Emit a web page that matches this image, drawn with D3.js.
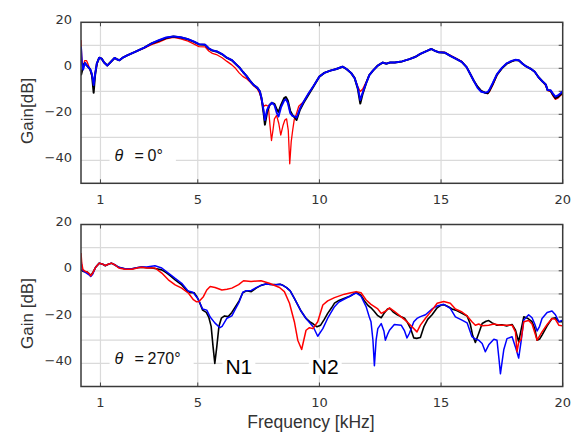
<!DOCTYPE html>
<html><head><meta charset="utf-8">
<script src="https://cdn.jsdelivr.net/npm/d3@7"></script>
<style>body{margin:0;background:#fff}svg{display:block}</style>
</head><body>
<svg id="chart" width="579" height="432"></svg>
<script>
// ---------- data (f [kHz], gain [dB]) ----------
const xTicks = [1, 5, 10, 15, 20];
const yTickLabels = [20, 0, -20, -40];
const yGrid = [10, 0, -10, -20, -30, -40];

const top0Black = [[0.2,-3],[0.25,-1],[0.3,1.5],[0.36,2.3],[0.42,1.5],[0.5,0.5],[0.58,-0.5],[0.65,-3],[0.72,-10.6],[0.78,-3],[0.85,2],[0.95,4.6],[1.05,4.2],[1.15,2.5],[1.28,1.2],[1.4,2.5],[1.58,4.5],[1.7,3.8],[1.78,3.5],[1.9,4.5],[2.1,5.6],[2.4,7],[2.8,9],[3.1,10.8],[3.4,12],[3.7,13.2],[4.0,13.8],[4.3,13.4],[4.6,12.6],[4.85,11.5],[5.05,10.4],[5.3,10.2],[5.45,8.6],[5.6,7.7],[5.8,7.2],[6.0,6.1],[6.2,4.5],[6.4,3.5],[6.55,2],[6.7,0.5],[6.85,-1.5],[7.0,-3.3],[7.15,-5.5],[7.3,-7.3],[7.45,-8.5],[7.55,-10],[7.62,-13],[7.7,-19],[7.76,-24.5],[7.85,-19],[7.95,-16],[8.05,-15],[8.15,-15.5],[8.25,-18],[8.32,-19],[8.42,-16],[8.55,-13],[8.62,-12.5],[8.7,-14],[8.8,-18.5],[8.9,-20.5],[9.0,-21.5],[9.06,-22.5],[9.2,-18],[9.35,-15],[9.55,-11.5],[9.75,-8],[10.0,-3.6],[10.2,-2],[10.45,-1],[10.7,-0.3],[10.95,0.7],[11.1,-0.2],[11.3,-2],[11.45,-4.3],[11.58,-9],[11.68,-15.3],[11.78,-11],[11.92,-6.5],[12.05,-3],[12.2,-1],[12.4,1.2],[12.6,2.5],[12.75,2],[12.9,2.5],[13.1,2.5],[13.4,3],[13.7,4],[13.95,5],[14.15,6.3],[14.4,7.5],[14.6,8.4],[14.75,7.6],[14.9,7],[15.15,6.8],[15.4,5.3],[15.6,4.2],[15.85,2.8],[16.05,0.5],[16.2,-2.5],[16.35,-5.5],[16.5,-8],[16.65,-9.8],[16.8,-10.6],[16.92,-10.8],[17.0,-9.5],[17.12,-7],[17.3,-2.7],[17.5,0],[17.7,2],[17.9,3],[18.05,3.6],[18.2,3.4],[18.35,2],[18.5,0.8],[18.7,-0.3],[18.85,-1.5],[19.0,-3.8],[19.15,-5.5],[19.3,-7],[19.38,-9.5],[19.5,-9.8],[19.6,-11.5],[19.7,-13],[19.8,-12.5],[19.9,-11.5],[20.0,-10.5]];

const top0Blue = [[0.2,9.4],[0.24,2],[0.29,-0.5],[0.36,2.3],[0.42,1.5],[0.5,0.5],[0.58,-0.5],[0.65,-2.5],[0.72,-7.3],[0.78,-2.5],[0.85,2],[0.95,4.6],[1.05,4.2],[1.15,2.5],[1.28,1.2],[1.4,2.5],[1.58,4.5],[1.7,3.8],[1.78,3.5],[1.9,4.5],[2.1,5.6],[2.4,7],[2.8,9],[3.1,10.8],[3.4,12.2],[3.7,13.4],[4.0,13.9],[4.3,13.5],[4.6,12.7],[4.85,11.6],[5.05,10.5],[5.3,10.3],[5.45,8.7],[5.6,7.8],[5.8,7.3],[6.0,6.2],[6.2,4.6],[6.4,3.6],[6.55,2],[6.7,0.5],[6.85,-1.5],[7.0,-3.3],[7.15,-5.5],[7.3,-7.3],[7.45,-8.5],[7.55,-10],[7.62,-13],[7.7,-18],[7.76,-22.5],[7.85,-18],[7.95,-16],[8.05,-15],[8.15,-16],[8.25,-19.5],[8.32,-21],[8.42,-17],[8.55,-14],[8.62,-13.5],[8.7,-15],[8.8,-19.5],[8.9,-20.8],[9.0,-21],[9.06,-21.5],[9.2,-17.5],[9.35,-14.5],[9.55,-11],[9.75,-7.8],[10.0,-3.6],[10.2,-2],[10.45,-1],[10.7,-0.3],[10.95,0.7],[11.1,-0.2],[11.3,-2],[11.45,-4.3],[11.58,-8.5],[11.68,-13.8],[11.78,-10.5],[11.92,-6.5],[12.05,-3],[12.2,-1],[12.4,1.2],[12.6,2.5],[12.75,2],[12.9,2.5],[13.1,2.5],[13.4,3],[13.7,4],[13.95,5],[14.15,6.3],[14.4,7.5],[14.6,8.4],[14.75,7.6],[14.9,7],[15.15,6.8],[15.4,5.3],[15.6,4.2],[15.85,2.8],[16.05,0.5],[16.2,-2.5],[16.35,-5.5],[16.5,-8.5],[16.65,-10.2],[16.8,-10.6],[16.92,-10.3],[17.0,-9],[17.12,-6.5],[17.3,-2.5],[17.5,0.2],[17.7,2.2],[17.9,3.2],[18.05,3.7],[18.2,3.5],[18.35,2],[18.5,0.8],[18.7,-0.3],[18.85,-1.5],[19.0,-3.8],[19.15,-5.5],[19.3,-7],[19.38,-9.5],[19.5,-9.5],[19.6,-11],[19.7,-12.3],[19.8,-11.8],[19.9,-11],[20.0,-10]];

const top0Red = [[0.2,12.3],[0.23,5],[0.28,0],[0.35,3.3],[0.43,3.3],[0.5,1.5],[0.6,-1.5],[0.66,-4],[0.72,-6.5],[0.8,-1],[0.9,3.5],[0.95,4.6],[1.05,4.2],[1.15,2.5],[1.28,1.2],[1.4,2.5],[1.58,4.5],[1.7,3.8],[1.78,3.5],[1.9,4.5],[2.1,5.6],[2.4,7],[2.8,8.8],[3.1,10.3],[3.4,11.4],[3.7,12.8],[4.0,13.4],[4.3,12.8],[4.6,11.8],[4.85,10.5],[5.05,9.4],[5.3,9.3],[5.45,7.5],[5.6,6.5],[5.8,5.8],[6.0,4.6],[6.2,3],[6.4,1.5],[6.55,0],[6.7,-2],[6.85,-3.5],[7.0,-4.5],[7.15,-6],[7.3,-7.6],[7.45,-9],[7.55,-11],[7.65,-15],[7.72,-16.5],[7.8,-16],[7.9,-16.5],[7.97,-25],[8.03,-31.4],[8.09,-27],[8.15,-22],[8.24,-20.5],[8.33,-24],[8.41,-29],[8.5,-25],[8.58,-22.5],[8.65,-22],[8.72,-27],[8.78,-41.5],[8.84,-32],[8.9,-27],[8.97,-22],[9.05,-20],[9.15,-16.5],[9.25,-15.5],[9.35,-14.5],[9.55,-11],[9.75,-7.8],[10.0,-3.6],[10.2,-2],[10.45,-1],[10.7,-0.3],[10.95,0.7],[11.1,-0.2],[11.3,-2],[11.45,-4.3],[11.58,-8],[11.68,-10.1],[11.78,-9],[11.92,-6],[12.05,-3],[12.2,-1],[12.4,1.2],[12.6,2.5],[12.75,2],[12.9,2.5],[13.1,2.5],[13.4,3],[13.7,4],[13.95,5],[14.15,6.3],[14.4,7.5],[14.6,8.4],[14.75,7.6],[14.9,7],[15.15,7],[15.4,5.5],[15.6,4.4],[15.85,3],[16.05,0.5],[16.2,-2.5],[16.35,-5.5],[16.5,-8],[16.65,-9.8],[16.8,-10.6],[16.92,-11],[17.0,-10],[17.12,-7.5],[17.3,-3],[17.5,0],[17.7,2],[17.9,3],[18.05,3.6],[18.2,3.4],[18.35,2],[18.5,0.8],[18.7,-0.3],[18.85,-1.5],[19.0,-3.8],[19.15,-5.5],[19.3,-7.5],[19.38,-9.7],[19.5,-10],[19.6,-12],[19.7,-13.5],[19.8,-13],[19.9,-12],[20.0,-11]];

const bot270Black = [[0.2,0.4],[0.3,-0.3],[0.45,-0.5],[0.55,-1.5],[0.62,-1.8],[0.7,-0.5],[0.8,1.5],[0.95,3.3],[1.1,2.8],[1.2,2.2],[1.32,2.8],[1.45,3.3],[1.6,2.5],[1.75,1.5],[2.0,0.9],[2.3,0.9],[2.55,1.4],[2.7,1.6],[2.9,1.3],[3.1,1.2],[3.3,0.9],[3.52,0.4],[3.7,-0.8],[3.85,-2],[4.07,-3.9],[4.34,-6.1],[4.55,-8.5],[4.7,-9.5],[4.85,-9.5],[4.95,-11],[5.05,-13],[5.2,-17],[5.35,-18],[5.45,-20],[5.55,-24],[5.63,-33],[5.7,-40],[5.78,-33],[5.87,-24],[5.97,-20.5],[6.1,-19.5],[6.25,-19.8],[6.4,-18],[6.55,-15.5],[6.7,-13],[6.85,-9.5],[7.0,-8.6],[7.2,-9],[7.4,-7.5],[7.6,-6.3],[7.8,-5.7],[8.0,-5.9],[8.2,-6],[8.38,-5.8],[8.5,-6.3],[8.65,-7.3],[8.8,-8.7],[8.97,-11.9],[9.1,-14.5],[9.25,-17.5],[9.45,-20.6],[9.6,-22],[9.75,-23],[9.9,-24.2],[10.05,-23.5],[10.2,-21],[10.34,-18.4],[10.5,-16],[10.62,-14],[10.8,-12.8],[11.03,-11.9],[11.25,-11],[11.51,-9.3],[11.7,-10.5],[11.85,-13],[12.0,-15],[12.12,-16],[12.25,-17.5],[12.4,-19.4],[12.54,-20.3],[12.65,-18.5],[12.8,-16.5],[12.9,-16.3],[13.05,-18],[13.2,-19],[13.36,-19.9],[13.5,-20.5],[13.6,-22],[13.75,-25],[13.88,-29],[14.0,-29.2],[14.15,-28.8],[14.3,-24],[14.45,-21],[14.63,-19],[14.84,-16],[15.0,-14.8],[15.15,-14.8],[15.3,-15.5],[15.45,-16.5],[15.6,-17],[15.86,-18.4],[16.07,-19.5],[16.2,-23],[16.3,-28],[16.41,-31],[16.55,-27],[16.69,-22.8],[16.85,-21.8],[16.96,-21.5],[17.1,-22.5],[17.3,-23.5],[17.5,-23.3],[17.7,-23.8],[17.92,-23.2],[18.06,-25.7],[18.19,-30.7],[18.3,-25],[18.4,-19.9],[18.55,-20.5],[18.74,-22],[18.85,-25],[18.95,-30],[19.05,-29.5],[19.15,-27.8],[19.36,-23.8],[19.56,-20.6],[19.7,-20.3],[19.84,-22],[20.0,-22]];

const bot270Blue = [[0.2,4.8],[0.25,0.5],[0.35,-0.5],[0.5,-1.5],[0.6,-2.5],[0.68,-1.5],[0.8,1.5],[0.95,3.3],[1.1,2.8],[1.2,2.2],[1.32,2.8],[1.45,3.3],[1.6,2.5],[1.75,1.5],[2.0,0.9],[2.3,0.9],[2.55,1.4],[2.7,1.6],[2.9,1.6],[3.24,2.2],[3.52,1.2],[3.79,-1.0],[4.07,-3.3],[4.34,-5.4],[4.6,-8.7],[4.8,-9.3],[5.0,-12],[5.2,-16.5],[5.37,-17],[5.51,-20],[5.7,-22.5],[5.91,-24.6],[6.0,-24],[6.2,-20.5],[6.4,-19.5],[6.55,-16.5],[6.7,-13.5],[6.85,-9.3],[7.0,-8.6],[7.2,-8.5],[7.4,-7.3],[7.6,-6.3],[7.8,-5.7],[8.0,-5.9],[8.2,-6],[8.38,-5.8],[8.5,-6.3],[8.65,-7.3],[8.8,-8.7],[8.97,-11.9],[9.1,-14.5],[9.25,-17.5],[9.45,-20.6],[9.6,-22.5],[9.75,-24.3],[9.93,-28.3],[10.14,-25],[10.34,-20.5],[10.62,-15.5],[10.8,-13.5],[11.03,-12.2],[11.25,-11],[11.51,-9.5],[11.71,-11],[11.92,-15.5],[12.05,-20],[12.12,-22],[12.2,-30],[12.26,-41],[12.33,-30],[12.4,-25],[12.54,-22.8],[12.65,-26],[12.71,-30],[12.8,-27.5],[12.88,-25.7],[13.08,-23.2],[13.36,-23.5],[13.5,-26],[13.6,-29],[13.7,-27],[13.88,-22],[14.01,-20.6],[14.15,-19.8],[14.36,-19],[14.63,-16.5],[14.84,-15.2],[15.11,-14.5],[15.38,-16.2],[15.59,-19.9],[15.86,-21.3],[16.07,-22.5],[16.27,-28.5],[16.41,-29.5],[16.55,-30],[16.69,-31.4],[16.82,-35],[16.96,-32],[17.17,-29.6],[17.3,-30],[17.38,-38],[17.44,-44.5],[17.5,-40],[17.58,-34],[17.71,-29.3],[17.92,-28.5],[18.06,-33],[18.19,-37.7],[18.29,-30.5],[18.4,-21.3],[18.6,-19],[18.74,-20.3],[18.85,-23],[18.95,-26],[19.05,-24],[19.15,-20.6],[19.36,-18],[19.56,-17.4],[19.7,-19],[19.84,-22],[20.0,-21.3]];

const bot270Red = [[0.2,7.7],[0.23,3.3],[0.28,0.5],[0.35,0],[0.45,-0.6],[0.52,-1],[0.6,-2.2],[0.68,-1],[0.8,1.5],[0.95,3.3],[1.1,2.8],[1.2,2.3],[1.32,2.8],[1.45,3.3],[1.6,2.5],[1.75,1.2],[2.0,0.7],[2.3,0.7],[2.55,1.3],[2.7,1.5],[2.9,1.2],[3.24,1.2],[3.52,-1],[3.79,-3.9],[4.07,-6.1],[4.34,-7.5],[4.62,-9.7],[4.82,-12.5],[4.95,-13.4],[5.05,-13.3],[5.23,-11.2],[5.37,-8.3],[5.51,-6.8],[5.71,-7.2],[5.99,-8.3],[6.2,-8.0],[6.4,-7.5],[6.68,-6],[6.88,-4.3],[7.19,-4.6],[7.6,-4.3],[7.94,-5.4],[8.36,-7.2],[8.56,-9],[8.77,-14],[8.97,-22],[9.11,-30],[9.27,-34],[9.45,-25.7],[9.59,-24.6],[9.73,-25],[9.93,-22],[10.14,-14.8],[10.34,-13],[10.62,-11.6],[11.03,-10.1],[11.3,-9.5],[11.51,-9],[11.71,-9.5],[11.92,-12.6],[12.12,-14.5],[12.4,-16.5],[12.54,-18.4],[12.71,-17.5],[12.88,-16],[13.08,-17.5],[13.36,-19.9],[13.6,-22],[13.88,-25],[14.01,-26.4],[14.15,-23.5],[14.36,-20.5],[14.63,-17],[14.84,-14],[15.11,-13.3],[15.38,-14],[15.59,-16.5],[15.86,-17.8],[16.07,-19.5],[16.27,-22],[16.41,-23.5],[16.55,-23],[16.69,-23.8],[16.96,-23.5],[17.17,-23],[17.44,-23.5],[17.71,-23.5],[17.92,-23.5],[18.06,-26.5],[18.12,-35],[18.19,-31],[18.29,-29.6],[18.4,-22],[18.6,-21.5],[18.74,-23],[18.95,-30],[19.15,-26.4],[19.36,-23.2],[19.56,-20.6],[19.7,-21],[19.84,-23.5],[20.0,-23.8]];

// ---------- layout ----------
const svg = d3.select("#chart");
const X0 = 81, X1 = 562.7;
const panels = [
  {top:22.3, bottom:183.3, ylabel:"Gain[dB]", theta:"0°",
   series:[{d:top0Red,c:"#ff0000",w:1.3},{d:top0Black,c:"#000",w:2},{d:top0Blue,c:"#0000ff",w:1.9}],
   notes:[]},
  {top:224.5, bottom:386.5, ylabel:"Gain [dB]", theta:"270°",
   series:[{d:bot270Black,c:"#000",w:1.6},{d:bot270Blue,c:"#0000ff",w:1.5},{d:bot270Red,c:"#ff0000",w:1.5}],
   notes:[{t:"N1",f:6.69,v:-41.5},{t:"N2",f:10.24,v:-41.5}]}
];
const x = d3.scaleLinear().domain([0.2, 20]).range([X0, X1]);
const fontTick = "'DejaVu Sans', sans-serif";
const fontLab = "'Liberation Sans', Arial, sans-serif";

panels.forEach((p, i) => {
  const y = d3.scaleLinear().domain([-50, 20]).range([p.bottom, p.top]);
  const g = svg.append("g");
  // grid
  g.selectAll(".hg").data(yGrid).join("line")
    .attr("x1", X0).attr("x2", X1).attr("y1", d => y(d)).attr("y2", d => y(d))
    .attr("stroke", "#dadada").attr("stroke-width", 1.2);
  g.selectAll(".vg").data(xTicks.slice(0, -1)).join("line")
    .attr("x1", d => x(d)).attr("x2", d => x(d)).attr("y1", p.top).attr("y2", p.bottom)
    .attr("stroke", "#dadada").attr("stroke-width", 1.2);
  // inward ticks
  g.selectAll(".rt").data(yGrid).join("line")
    .attr("x1", X1 - 4).attr("x2", X1).attr("y1", d => y(d)).attr("y2", d => y(d))
    .attr("stroke", "#444").attr("stroke-width", 1);
  g.selectAll(".tt").data(xTicks).join("line")
    .attr("x1", d => x(d)).attr("x2", d => x(d)).attr("y1", p.top).attr("y2", p.top + 4)
    .attr("stroke", "#444").attr("stroke-width", 1);
  g.selectAll(".bt").data(xTicks).join("line")
    .attr("x1", d => x(d)).attr("x2", d => x(d)).attr("y1", p.bottom - 4).attr("y2", p.bottom)
    .attr("stroke", "#444").attr("stroke-width", 1);

  // curves
  const clipId = "clip" + i;
  svg.append("clipPath").attr("id", clipId).append("rect")
    .attr("x", X0).attr("y", p.top).attr("width", X1 - X0).attr("height", p.bottom - p.top);
  const line = d3.line().x(d => x(d[0])).y(d => y(d[1])).curve(d3.curveLinear);
  const cg = g.append("g").attr("clip-path", `url(#${clipId})`);
  p.series.forEach(s => {
    cg.append("path").attr("d", line(s.d)).attr("fill", "none")
      .attr("stroke", s.c).attr("stroke-width", s.w).attr("stroke-linejoin", "round");
  });

  // theta label with white background
  const tg = g.append("g");
  const bx = x(1.58), by = y(-40) + 0.5;
  const tt = tg.append("text").attr("x", bx).attr("y", by)
    .attr("font-family", fontLab).attr("font-size", 16).attr("fill", "#111");
  tt.append("tspan").attr("font-style", "italic").text("θ");
  tt.append("tspan").attr("x", bx + 20).text("=");
  tt.append("tspan").attr("x", bx + 33).text(p.theta);
  const bb = tt.node().getBBox();
  tg.insert("rect", "text").attr("x", bb.x - 5).attr("y", bb.y).attr("width", bb.width + 18).attr("height", bb.height).attr("fill", "#fff");

  p.notes.forEach(n => {
    const ng = g.append("g");
    const nt = ng.append("text").attr("x", x(n.f)).attr("y", y(n.v)).attr("dy", "0.36em")
      .attr("text-anchor", "middle").attr("font-family", fontLab)
      .attr("font-size", 21).attr("fill", "#000").text(n.t);
    const b2 = nt.node().getBBox();
    ng.insert("rect", "text").attr("x", b2.x - 3).attr("y", b2.y + 3).attr("width", b2.width + 6).attr("height", b2.height - 6).attr("fill", "#fff");
  });

  // frame
  g.append("rect").attr("x", X0).attr("y", p.top).attr("width", X1 - X0).attr("height", p.bottom - p.top)
    .attr("fill", "none").attr("stroke", "#3a3a3a").attr("stroke-width", 1.5);

  // y tick labels
  g.selectAll(".yl").data(yTickLabels).join("text")
    .attr("x", X0 - 9).attr("y", d => y(d) - 3).attr("dy", "0.35em").attr("text-anchor", "end")
    .attr("font-family", fontTick).attr("font-size", 13).attr("fill", "#333")
    .text(d => d < 0 ? "\u2212" + Math.abs(d) : d);
  // x tick labels
  g.selectAll(".xl").data(xTicks).join("text")
    .attr("x", d => x(d)).attr("y", p.bottom + 16).attr("dy", "0.35em").attr("text-anchor", "middle")
    .attr("font-family", fontTick).attr("font-size", 13).attr("fill", "#333")
    .text(d => d);
  // y axis label
  g.append("text").attr("transform", `translate(27,${(p.top + p.bottom) / 2 + 8}) rotate(-90)`)
    .attr("text-anchor", "middle").attr("dy", "0.35em")
    .attr("font-family", fontLab).attr("font-size", 17).attr("fill", "#333")
    .text(p.ylabel);
});

svg.append("text").attr("x", 311).attr("y", 422).attr("dy", "0.35em").attr("text-anchor", "middle")
  .attr("font-family", fontLab).attr("font-size", 17.5).attr("fill", "#333")
  .text("Frequency [kHz]");
</script>
</body></html>
